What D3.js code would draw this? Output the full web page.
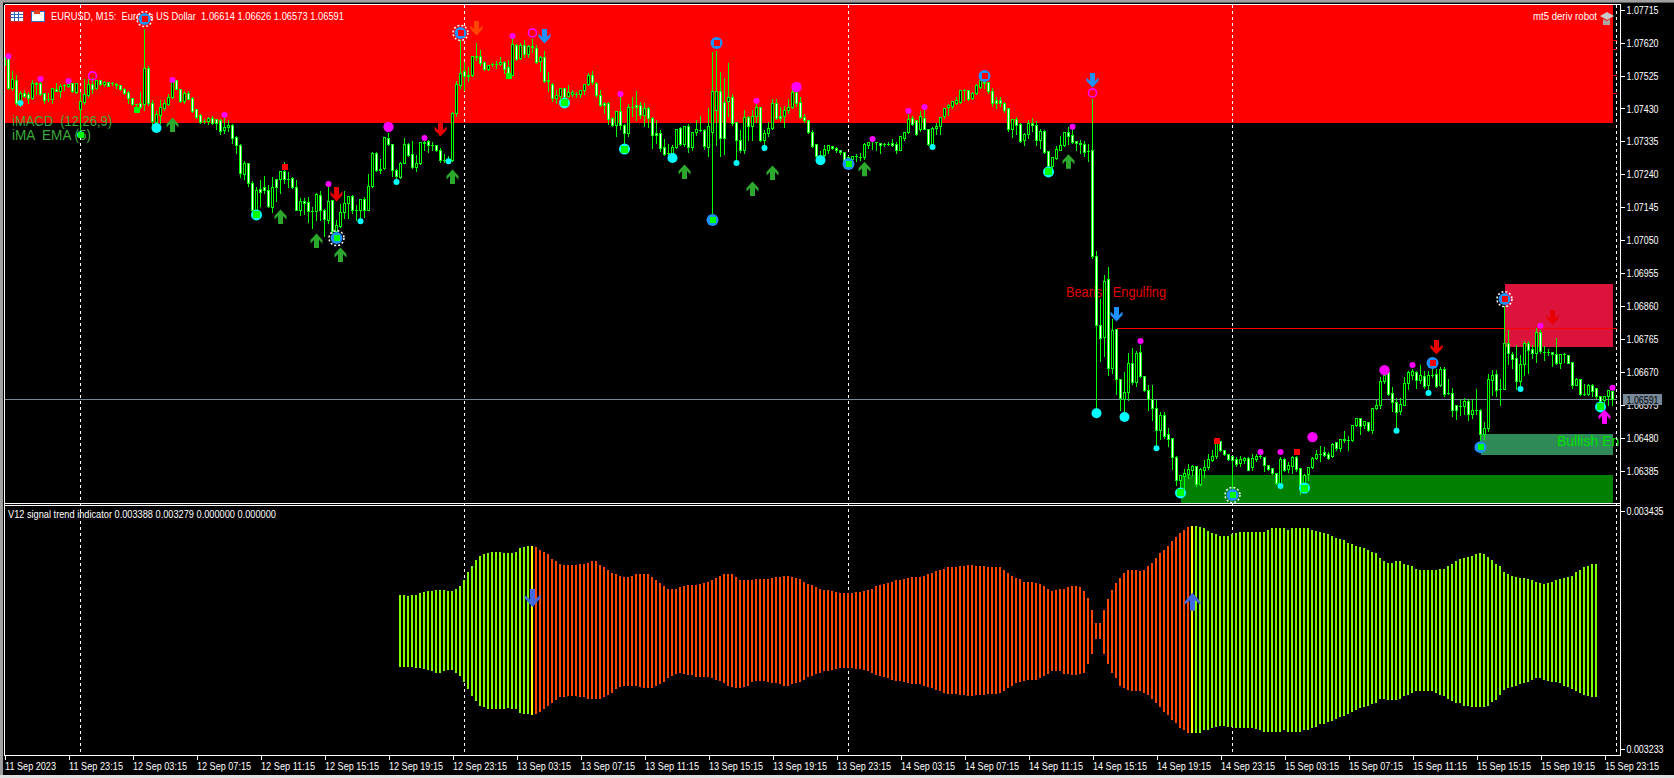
<!DOCTYPE html>
<meta charset="utf-8">
<script src="https://d3js.org/d3.v7.min.js"></script>
<style>
  html, body { margin: 0; padding: 0; background: #000; overflow: hidden; }
  svg { display: block; }
  text { font-family: "Liberation Sans", Arial, sans-serif; font-size: 11px; fill: #fff; white-space: pre; }
  .big { font-size: 14px; }
</style>
<div id="chart"></div>
<script>

// candles by day, rows are [open, high, low, close] in points above 1.06000
var sep11 = [
[1553,1585,1540,1578],[1575,1582,1485,1489],[1487,1540,1482,1513],[1511,1527,1440,1445],[1450,1482,1435,1474],
[1474,1484,1462,1466],[1471,1479,1443,1458],[1458,1513,1455,1501],[1502,1508,1470,1503],[1501,1508,1467,1469],
[1472,1476,1445,1453],[1455,1476,1450,1455],[1457,1490,1443,1488],[1486,1506,1478,1480],[1479,1503,1463,1493],
[1495,1503,1482,1495],[1493,1508,1491,1498],[1501,1505,1477,1479],[1477,1503,1474,1501]];
var sep12 = [
[1426,1479,1368,1450],[1447,1517,1441,1469],[1467,1517,1463,1498],[1498,1520,1474,1484],[1489,1513,1486,1511],
[1511,1513,1496,1498],[1500,1511,1493,1505],[1506,1509,1492,1493],[1501,1508,1495,1501],[1497,1505,1489,1500],
[1495,1498,1482,1484],[1486,1490,1469,1474],[1477,1481,1445,1458],[1460,1462,1439,1441],[1441,1445,1434,1441],
[1443,1479,1431,1434],[1441,1660,1424,1546],[1546,1553,1440,1443],[1443,1455,1380,1393],[1391,1423,1383,1412],
[1410,1457,1388,1434],[1431,1455,1423,1443],[1441,1474,1439,1463],[1463,1513,1460,1506],[1511,1513,1484,1486],
[1484,1489,1448,1450],[1450,1482,1445,1474],[1474,1482,1455,1457],[1460,1466,1418,1421],[1426,1428,1400,1403],
[1409,1415,1388,1391],[1392,1402,1386,1392],[1393,1407,1383,1400],[1400,1410,1383,1386],[1397,1399,1369,1386],
[1395,1402,1354,1364],[1366,1407,1359,1376],[1375,1397,1364,1382],[1382,1386,1330,1344],[1347,1351,1301,1323],
[1323,1330,1231,1241],[1240,1281,1226,1272],[1270,1270,1204,1214],[1214,1222,1132,1135],[1135,1206,1122,1193],
[1195,1224,1147,1187],[1201,1238,1185,1192],[1193,1212,1144,1147],[1144,1235,1130,1202],[1226,1228,1163,1202],
[1224,1250,1185,1249],[1249,1277,1214,1224],[1226,1248,1202,1226],[1228,1233,1199,1201],[1201,1224,1135,1137],
[1137,1174,1121,1162],[1161,1174,1123,1156],[1159,1177,1100,1132],[1132,1147,1084,1132],[1132,1187,1108,1183],
[1180,1192,1108,1136],[1136,1142,1062,1110],[1108,1204,1097,1162],[1164,1168,1070,1075],[1075,1110,1070,1091],
[1089,1156,1087,1130],[1129,1192,1113,1156],[1155,1180,1113,1177],[1177,1183,1126,1137],[1137,1154,1108,1137],
[1137,1168,1111,1168],[1168,1177,1116,1137],[1137,1241,1135,1204],[1204,1305,1202,1301],[1301,1305,1248,1250],
[1251,1286,1243,1254],[1256,1349,1254,1346],[1344,1360,1322,1325],[1326,1329,1233,1251],[1252,1257,1228,1233],
[1230,1276,1228,1272],[1272,1346,1270,1327],[1325,1331,1291,1294],[1296,1339,1257,1259],[1259,1296,1248,1272],
[1272,1334,1269,1333],[1331,1344,1310,1333],[1334,1341,1302,1323],[1323,1334,1308,1323],[1322,1325,1305,1308],
[1310,1317,1275,1279],[1281,1301,1275,1281],[1282,1293,1272,1280],[1281,1421,1278,1416],[1416,1512,1408,1498],
[1496,1628,1488,1530]];
var sep13 = [
[1536,1565,1483,1522],[1526,1551,1507,1524],[1525,1581,1522,1580],[1580,1621,1568,1579],[1581,1600,1555,1560],
[1563,1568,1541,1543],[1543,1558,1541,1555],[1557,1563,1550,1557],[1557,1568,1544,1557],[1556,1579,1553,1563],
[1563,1568,1531,1543],[1548,1570,1520,1528],[1526,1632,1524,1616],[1613,1618,1568,1571],[1574,1621,1571,1611],
[1613,1629,1577,1586],[1587,1616,1576,1610],[1608,1632,1592,1610],[1603,1616,1560,1562],[1565,1584,1536,1577],
[1577,1596,1504,1509],[1512,1538,1480,1509],[1500,1505,1449,1459],[1458,1485,1444,1467],[1466,1489,1459,1488],
[1488,1489,1450,1462],[1464,1499,1461,1475],[1470,1486,1464,1476],[1471,1478,1462,1471],[1469,1486,1462,1483],
[1481,1499,1471,1499],[1499,1534,1495,1524],[1524,1541,1499,1505],[1502,1507,1462,1467],[1467,1485,1435,1438],
[1445,1451,1416,1438],[1445,1449,1385,1399],[1401,1406,1377,1380],[1380,1423,1348,1420],[1420,1468,1368,1382],
[1382,1387,1324,1358],[1358,1444,1350,1433],[1433,1466,1406,1433],[1438,1483,1396,1432],[1438,1451,1401,1409],
[1409,1446,1377,1430],[1430,1435,1375,1401],[1401,1408,1315,1351],[1358,1399,1329,1351],[1358,1368,1305,1315],
[1318,1344,1295,1298],[1300,1329,1279,1300],[1300,1327,1295,1318],[1317,1372,1315,1370],[1372,1377,1324,1327],
[1327,1382,1320,1377],[1377,1387,1302,1317],[1317,1363,1310,1361],[1360,1399,1353,1370],[1367,1411,1363,1367],
[1366,1372,1312,1319],[1318,1433,1291,1377],[1361,1594,1118,1478],[1425,1596,1324,1478],[1478,1536,1292,1344],
[1446,1520,1298,1342],[1449,1562,1406,1462],[1462,1473,1382,1387],[1390,1392,1281,1339],[1339,1368,1302,1310],
[1310,1428,1300,1404],[1404,1411,1337,1379],[1377,1428,1339,1406],[1406,1445,1391,1433],[1433,1437,1334,1337],
[1337,1369,1324,1358],[1358,1392,1350,1372],[1373,1459,1370,1445],[1445,1459,1397,1401],[1408,1435,1392,1401],
[1406,1440,1375,1425],[1425,1460,1415,1432],[1432,1488,1430,1476],[1476,1495,1435,1445],[1448,1464,1401,1404],
[1404,1416,1390,1395],[1395,1399,1358,1361],[1361,1370,1318,1320],[1325,1326,1289,1291],[1294,1310,1281,1294],
[1294,1327,1291,1313],[1310,1327,1299,1322],[1321,1324,1313,1315],[1315,1320,1302,1310],[1310,1313,1296,1303],
[1303,1305,1279,1281]];
var sep14 = [
[1281,1293,1275,1290],[1284,1293,1276,1291],[1291,1300,1276,1291],[1289,1302,1279,1289],[1289,1332,1283,1325],
[1322,1336,1315,1332],[1334,1347,1313,1334],[1331,1334,1310,1331],[1329,1331,1299,1322],[1327,1332,1320,1327],
[1327,1334,1323,1327],[1329,1344,1320,1322],[1327,1334,1299,1310],[1310,1351,1308,1349],[1342,1365,1339,1361],
[1361,1416,1358,1397],[1400,1411,1382,1385],[1395,1399,1353,1356],[1368,1425,1365,1406],[1401,1435,1368,1370],
[1370,1373,1324,1327],[1327,1377,1320,1373],[1372,1389,1356,1379],[1377,1406,1356,1404],[1406,1433,1401,1430],
[1433,1445,1411,1439],[1435,1454,1430,1451],[1445,1464,1442,1454],[1447,1483,1443,1481],[1481,1488,1454,1481],
[1481,1486,1452,1456],[1459,1478,1456,1474],[1472,1502,1470,1495],[1491,1514,1489,1512],[1505,1512,1488,1503],
[1504,1509,1472,1478],[1478,1491,1437,1443],[1454,1464,1430,1445],[1454,1464,1437,1445],[1445,1450,1418,1424],
[1430,1433,1365,1368],[1368,1399,1347,1397],[1397,1406,1356,1382],[1385,1389,1331,1334],[1337,1360,1322,1356],
[1355,1399,1344,1387],[1387,1404,1363,1380],[1382,1395,1322,1339],[1339,1371,1315,1365],[1365,1368,1300,1302],
[1305,1308,1260,1264],[1264,1291,1255,1288],[1286,1323,1283,1313],[1310,1353,1308,1324],[1323,1365,1320,1362],
[1361,1377,1325,1350],[1353,1373,1329,1332],[1335,1339,1310,1329],[1329,1341,1300,1325],[1325,1339,1291,1302],
[1305,1329,1276,1305],[1310,1459,997,1002],[1002,1019,560,803],[803,882,700,767],[770,952,714,930],
[937,974,661,680],[680,825,666,789],[793,796,606,647],[647,651,560,593],[591,672,546,610],
[610,727,587,695],[695,741,635,639],[639,733,627,724],[725,750,654,658],[658,661,613,616],
[616,635,558,589],[589,634,531,565],[565,591,454,500],[500,555,476,543],[543,555,478,483],
[488,510,454,476],[478,481,389,423],[423,430,341,356],[356,373,334,370],[368,392,334,377],
[375,406,363,389],[387,404,372,396],[398,401,339,345],[345,395,343,389],[387,416,366,394],
[395,435,389,416],[414,445,411,427],[425,469,420,466],[469,473,440,443],[444,446,430,433],
[433,435,414,418]];
var sep15 = [
[425,427,334,414],[416,425,397,404],[405,430,397,416],[413,425,406,420],[420,425,385,387],
[393,435,385,420],[418,435,411,427],[427,440,420,427],[423,425,382,399],[399,401,385,389],
[392,394,374,377],[377,379,345,348],[348,425,343,416],[416,423,382,387],[389,411,380,401],
[398,430,377,423],[423,430,382,389],[392,395,315,341],[346,377,324,372],[375,397,358,395],
[395,425,392,421],[419,447,416,433],[433,459,411,433],[437,455,425,430],[433,440,416,421],
[425,466,423,462],[466,469,443,449],[449,478,440,475],[476,502,466,473],[473,486,443,473],
[473,517,469,515],[515,539,512,536],[536,539,488,512],[514,531,507,526],[525,528,498,500],
[500,567,493,565],[565,589,562,572],[572,658,565,642],[642,666,637,661],[668,671,603,606],
[608,629,555,581],[581,597,505,552],[555,597,546,576],[574,658,572,637],[637,675,618,669],
[661,680,647,670],[669,675,623,644],[644,690,637,661],[656,674,623,629],[631,675,618,661],
[661,680,653,661],[663,680,625,629],[632,687,629,678],[678,687,600,606],[608,651,606,608],
[608,625,541,560],[572,577,534,560],[571,594,543,571],[570,597,546,584],[584,592,531,546],
[546,594,536,560],[560,621,546,560],[560,565,473,490],[490,528,476,507],[507,664,499,647],
[645,678,603,661],[663,678,599,616],[618,650,574,618],[620,862,618,752],[752,793,690,722],
[721,730,680,707],[709,750,618,642],[642,719,632,692],[692,762,661,752],[752,762,666,733],
[735,750,709,722],[723,799,698,784],[784,793,724,728],[727,745,702,727],[726,738,716,726],
[725,728,685,719],[721,769,690,695],[695,724,680,719],[719,726,698,719],[717,719,693,695],
[698,701,622,632],[632,654,630,649],[648,651,603,606],[606,637,601,606],[606,637,601,632],
[630,637,598,613],[621,623,592,598],[598,601,565,586],[587,603,570,600],[598,620,574,616],
[614,626,573,591]];
var candles = [].concat(sep11, sep12, sep13, sep14, sep15);

// markers, rows are [bar index, points above 1.06000]
var magentaDots = [[1,1581],[9,1515],[16,1509],[42,1512],[55,1411],[81,1212],[105,1345],[127,1639],[154,1472],[188,1452],[217,1342],[226,1423],[230,1434],[267,1377],[284,759],[314,439],[319,439],[352,690],[384,803],[402,624]];
var cyanDots = [[4,1446],[89,1105],[98,1218],[111,1278],[183,1273],[190,1316],[232,1319],[288,450],[319,341],[348,500],[356,609],[379,621]];
var bigMagenta = [[96,1377],[198,1492],[327,482],[345,675]];
var bigCyan = [[38,1374],[167,1287],[204,1281],[273,551],[280,540]];
var cyanGreen = [[63,1123],[140,1446],[155,1313],[261,1247],[294,321],[325,335],[399,569]];
var magentaRings = [[22,1524],[132,1648],[272,1475]];
var greenSquares = [[19,1354],[33,1426],[126,1524]];
var redSquares = [[70,1261],[303,471],[323,439]];
var blueRed = [[178,1619],[245,1524],[357,696]];
var blueGreen = [[177,1108],[211,1270],[369,453]];
var gearRed = [[35,1688],[114,1648],[375,880]];
var gearGreen = [[83,1056],[307,315]];
var greenUp = [[42,1382],[69,1117],[78,1048],[84,1007],[112,1232],[170,1247],[187,1198],[192,1244],[215,1255],[266,1276]];
var redDown = [[83,1183],[109,1371],[358,742],[387,828]];
var blueDown = [[135,1639],[272,1512],[278,837]];
var orangeDown = [[118,1662]];
var magentaUp = [[400,540]];

// zones, rows are [first bar, last bar, high points, low points, colour]
var zones = [
  [0, 402, 1729, 1388, "#ff0000"],
  [375, 402, 924, 742, "#dc143c"],
  [369, 402, 491, 430.5, "#2e8b57"],
  [294, 402, 373, 292, "#008000"]
];
var resistanceLine = [278, 796];
var lastPrice = 1.06591;
var riskLevels = [1625, 1599, 1524, 1472];

var priceTicks = ["1.07715","1.07620","1.07525","1.07430","1.07335","1.07240","1.07145","1.07050","1.06955","1.06860","1.06765","1.06670","1.06575","1.06480","1.06385"];
var signalTicks = [0.003435, 0.003233];
var dayStarts = [19, 115, 211, 307];
var timeTicks = [0,16,32,48,64,80,96,112,128,144,160,176,192,208,224,240,256,272,288,304,320,336,352,368,384,400];
var timeLabels = ["11 Sep 2023","11 Sep 23:15","12 Sep 03:15","12 Sep 07:15","12 Sep 11:15","12 Sep 15:15","12 Sep 19:15","12 Sep 23:15","13 Sep 03:15","13 Sep 07:15","13 Sep 11:15","13 Sep 15:15","13 Sep 19:15","13 Sep 23:15","14 Sep 03:15","14 Sep 07:15","14 Sep 11:15","14 Sep 15:15","14 Sep 19:15","14 Sep 23:15","15 Sep 03:15","15 Sep 07:15","15 Sep 11:15","15 Sep 15:15","15 Sep 19:15","15 Sep 23:15"];

// V12 indicator, values in millionths, first entry is bar 99
var signalStart = 99;
var signalTop = [3364,3364,3363,3364,3364,3365,3366,3367,3367,3368,3368,3368,3367,3367,3369,3371,3376,3383,3388,3393,3397,3398,3399,3400,3400,3400,3399,3399,3399,3400,3403,3404,3405,3405,3404,3402,3400,3398,3394,3392,3390,3389,3389,3389,3389,3390,3390,3391,3392,3392,3389,3387,3385,3382,3381,3380,3379,3379,3380,3381,3381,3381,3381,3379,3376,3374,3371,3369,3369,3369,3370,3371,3372,3372,3372,3373,3374,3375,3376,3378,3380,3381,3381,3381,3379,3376,3376,3376,3376,3377,3377,3377,3377,3378,3379,
3379,3380,3380,3379,3378,3377,3375,3373,3372,3370,3369,3368,3368,3367,3366,3365,3365,3365,3365,3366,3366,3367,3368,3369,3371,3372,3373,3374,3375,3376,3376,3377,3378,3379,3379,3379,3380,3381,3382,3384,3385,3386,3387,3387,3387,3388,3388,3389,3389,3388,3388,3388,3387,3387,3387,
3387,3385,3382,3380,3378,3377,3375,3375,3375,3374,3373,3371,3369,3367,3368,3369,3369,3370,3371,3371,3370,3367,3361,3351,3340,3340,3351,3360,3368,3374,3378,3382,3385,3385,3385,3384,3385,3388,3391,3395,3399,3402,3405,3409,3413,3416,3419,3421,3422,3422,3421,3420,3418,3416,3415,3414,3414,3414,3415,3416,3417,3417,3417,3417,3417,3417,3417,3419,3420,3420,3420,3420,3419,3420,3420,3420,3420,3420,3419,3418,3417,3416,3415,3414,3412,3411,3410,3408,3407,3405,3404,3403,3402,3400,3399,3395,3392,3391,3391,3392,3392,3390,3389,3388,3386,3385,3385,3385,3385,3385,3386,3386,3388,3390,3392,3394,3395,3396,3397,3398,3399,3398,3396,3393,3390,3388,3383,3381,3380,3379,3378,3378,3377,3376,3375,3374,3373,3374,3375,3376,3377,3378,3379,3380,3383,3385,3387,3388,3390,3390];
var signalBottom = [3303,3303,3303,3303,3302,3302,3301,3300,3299,3298,3298,3299,3300,3300,3298,3295,3290,3284,3278,3274,3270,3269,3267,3267,3267,3267,3267,3268,3267,3267,3264,3263,3263,3262,3263,3265,3267,3270,3272,3275,3277,3277,3278,3278,3278,3277,3277,3276,3276,3276,3276,3277,3279,3281,3284,3286,3287,3287,3287,3287,3286,3285,3285,3285,3287,3288,3290,3293,3295,3297,3298,3297,3296,3296,3294,3294,3294,3294,3293,3292,3291,3289,3287,3286,3285,3285,3286,3287,3290,3291,3291,3291,3290,3289,3289,
3288,3287,3287,3288,3289,3290,3292,3294,3295,3297,3298,3299,3299,3300,3301,3302,3302,3302,3302,3301,3301,3300,3299,3298,3296,3295,3294,3293,3292,3291,3291,3290,3289,3288,3288,3288,3287,3286,3285,3283,3282,3281,3280,3280,3280,3279,3279,3278,3278,3279,3279,3279,3280,3280,3280,
3281,3282,3285,3287,3289,3290,3291,3292,3292,3292,3293,3295,3297,3299,3299,3299,3297,3297,3296,3296,3297,3298,3305,3314,3326,3326,3314,3305,3298,3293,3287,3285,3283,3282,3282,3282,3281,3279,3276,3272,3269,3265,3262,3258,3255,3251,3249,3247,3247,3247,3247,3249,3249,3251,3252,3253,3253,3252,3252,3251,3251,3251,3251,3251,3250,3249,3248,3248,3248,3248,3248,3249,3248,3248,3248,3248,3249,3249,3251,3252,3254,3254,3256,3257,3259,3260,3261,3263,3265,3266,3268,3269,3270,3271,3272,3276,3276,3275,3275,3275,3276,3278,3279,3281,3282,3282,3282,3282,3282,3281,3279,3278,3276,3274,3272,3272,3270,3270,3269,3269,3269,3269,3270,3273,3275,3279,3283,3285,3286,3287,3288,3289,3290,3292,3293,3293,3292,3291,3290,3290,3289,3287,3286,3284,3282,3281,3279,3278,3277,3277];
var signalFlips = [132, 297];
var signalArrows = [[132, 3361, "down"], [297, 3358, "up"]];

var width = 1674, height = 778;
var left = 4.5, plotRight = 1620.5;
var mainTop = 4.5, mainBottom = 503.5, subTop = 505.5, subBottom = 755.5;

var svg = d3.select("#chart").append("svg")
  .attr("width", width)
  .attr("height", height)
  .style("background", "#000");

var x = d3.scaleLinear().domain([0, 402]).range([4.5, 1612.5]);
var yMain = d3.scaleLinear().domain([1.07715, 1.06385]).range([9.7, 470.7]);
var ySub = d3.scaleLinear().domain([0.003435, 0.003233]).range([510.7, 749.3]);

function price(points) { return 1.06 + points / 100000; }
function yp(points) { return yMain(price(points)); }
function snap(v) { return Math.round(v - 0.5) + 0.5; }

// text squeezed to the width it has in the terminal's narrow ui font
function label(parent, tx, ty, len, str, cls, colour) {
  return parent.append("text")
    .attr("class", cls || null)
    .attr("x", tx).attr("y", ty)
    .attr("textLength", len)
    .attr("lengthAdjust", "spacingAndGlyphs")
    .style("fill", colour || "#fff")
    .text(str);
}

var defs = svg.append("defs");
defs.append("clipPath").attr("id", "mainClip").append("rect")
  .attr("x", 5).attr("y", 5).attr("width", 1614).attr("height", 498);

// window frame
svg.append("rect").attr("x", 0).attr("y", 0).attr("width", width).attr("height", 3).attr("fill", "#a0a0a0");
svg.append("rect").attr("x", 0).attr("y", 2).attr("width", width).attr("height", 1).attr("fill", "#606060");
svg.append("rect").attr("x", 0).attr("y", 0).attr("width", 3).attr("height", height).attr("fill", "#a0a0a0");
svg.append("rect").attr("x", 0).attr("y", height - 3).attr("width", width).attr("height", 3).attr("fill", "#e0e0e0");

var plot = svg.append("g").attr("shape-rendering", "crispEdges");

// zones
plot.selectAll(".zone").data(zones).enter().append("rect")
  .attr("class", "zone")
  .attr("x", function(d) { return Math.max(5, x(d[0])); })
  .attr("y", function(d) { return Math.round(yp(d[2])); })
  .attr("width", function(d) { return x(d[1]) - Math.max(5, x(d[0])); })
  .attr("height", function(d) { return Math.round(yp(d[3])) - Math.round(yp(d[2])); })
  .attr("fill", function(d) { return d[4]; });

// captions sit under the candles and markers
var captions = svg.append("g");
label(captions, 51, 20, 293, "EURUSD, M15:  Euro vs US Dollar  1.06614 1.06626 1.06573 1.06591");
label(captions, 1533, 20, 64, "mt5 deriv robot");
label(captions, 8, 518, 268, "V12 signal trend indicator 0.003388 0.003279 0.000000 0.000000");
label(captions, 12, 126, 100, "iMACD  (12,26,9)", "big", "#3cab3c");
label(captions, 12, 140, 79, "iMA  EMA (5)", "big", "#3cab3c");
label(captions, 1066, 297, 100, "Bearish Engulfing", "big", "#e00000");
captions.append("text").attr("class", "big").attr("x", 1557).attr("y", 446)
  .style("fill", "#00e000").attr("clip-path", "url(#mainClip)").text("Bullish Engulfing");

var over = svg.append("g").attr("shape-rendering", "crispEdges");

// period separators and the right hand shift line
var separatorX = dayStarts.map(function(d) { return x(d); }).concat([1616.5]);
over.selectAll(".sep").data(separatorX).enter().append("line")
  .attr("x1", function(d) { return snap(d); })
  .attr("x2", function(d) { return snap(d); })
  .attr("y1", 5).attr("y2", 755)
  .attr("stroke", "#fff")
  .attr("stroke-dasharray", "3,3");

// short red level stubs right of the zone
over.selectAll(".stub").data(riskLevels).enter().append("line")
  .attr("x1", 1612.5).attr("x2", 1617)
  .attr("y1", function(d) { return snap(yp(d)); })
  .attr("y2", function(d) { return snap(yp(d)); })
  .attr("stroke", "#ff0000");

over.append("line")
  .attr("x1", x(resistanceLine[0])).attr("x2", 1617)
  .attr("y1", snap(yp(resistanceLine[1]))).attr("y2", snap(yp(resistanceLine[1])))
  .attr("stroke", "#ff0000");

over.append("line")
  .attr("x1", 5).attr("x2", 1617)
  .attr("y1", snap(yMain(lastPrice))).attr("y2", snap(yMain(lastPrice)))
  .attr("stroke", "#778899");

// candles
var bars = over.append("g").attr("clip-path", "url(#mainClip)")
  .selectAll("g").data(candles).enter().append("g");

bars.append("line")
  .attr("x1", function(d, i) { return x(i); })
  .attr("x2", function(d, i) { return x(i); })
  .attr("y1", function(d) { return snap(yp(d[1])); })
  .attr("y2", function(d) { return snap(yp(d[2])); })
  .attr("stroke", "#00ff00");

bars.filter(function(d) { return d[0] !== d[3]; }).append("rect")
  .attr("x", function(d) { return x(candles.indexOf(d)) - 1; })
  .attr("y", function(d) { return snap(yp(Math.max(d[0], d[3]))); })
  .attr("width", 2)
  .attr("height", function(d) { return Math.max(1, snap(yp(Math.min(d[0], d[3]))) - snap(yp(Math.max(d[0], d[3])))); })
  .attr("stroke", "#00ff00")
  .attr("fill", function(d) { return d[3] < d[0] ? "#fff" : "#000"; });

bars.filter(function(d) { return d[0] === d[3]; }).append("line")
  .attr("x1", function(d) { return x(candles.indexOf(d)) - 1.5; })
  .attr("x2", function(d) { return x(candles.indexOf(d)) + 1.5; })
  .attr("y1", function(d) { return snap(yp(d[0])); })
  .attr("y2", function(d) { return snap(yp(d[0])); })
  .attr("stroke", "#00ff00");

// markers
var marks = svg.append("g").attr("clip-path", "url(#mainClip)");

function dots(data, r, fill) {
  marks.selectAll(null).data(data).enter().append("circle")
    .attr("cx", function(d) { return x(d[0]); })
    .attr("cy", function(d) { return yp(d[1]); })
    .attr("r", r)
    .attr("fill", fill);
}

function squares(data, size, fill) {
  marks.selectAll(null).data(data).enter().append("rect")
    .attr("x", function(d) { return x(d[0]) - size / 2; })
    .attr("y", function(d) { return yp(d[1]) - size / 2; })
    .attr("width", size).attr("height", size)
    .attr("fill", fill)
    .attr("shape-rendering", "crispEdges");
}

function gear(data) {
  marks.selectAll(null).data(data).enter().append("circle")
    .attr("cx", function(d) { return x(d[0]); })
    .attr("cy", function(d) { return yp(d[1]); })
    .attr("r", 7.5)
    .attr("fill", "none")
    .attr("stroke", "#fff")
    .attr("stroke-width", 1.5)
    .attr("stroke-dasharray", "2,2");
}

function arrows(data, dir, fill) {
  var path = "M0,-7.5L6,-1L6,2.5L2.5,-1L2.5,7L-2.5,7L-2.5,-1L-6,2.5L-6,-1Z";
  marks.selectAll(null).data(data).enter().append("path")
    .attr("d", path)
    .attr("transform", function(d) {
      return "translate(" + x(d[0]) + "," + yp(d[1]) + ") scale(1," + (dir === "up" ? 1 : -1) + ")";
    })
    .attr("fill", fill);
}

dots(magentaDots, 3, "#ff00ff");
dots(cyanDots, 3, "#00ffff");
dots(bigMagenta, 5.2, "#ff00ff");
dots(bigCyan, 5, "#00ffff");
dots(cyanGreen, 5.5, "#00ffff");
squares(cyanGreen, 7, "#00ff00");
dots(greenSquares.slice(0, 1), 3.5, "#00ffff");
squares(greenSquares, 6, "#00ff00");
squares(redSquares, 6, "#ff0000");

marks.selectAll(null).data(magentaRings).enter().append("circle")
  .attr("cx", function(d) { return x(d[0]); })
  .attr("cy", function(d) { return yp(d[1]); })
  .attr("r", 4)
  .attr("fill", "none")
  .attr("stroke", "#ff00ff")
  .attr("stroke-width", 1.6);

gear(gearRed);
gear(gearGreen);
dots(blueRed.concat(blueGreen, gearRed, gearGreen), 6, "#1e90ff");
squares(blueRed.concat(gearRed), 6, "#ff0000");
squares(blueGreen.concat(gearGreen), 6, "#00ff00");

arrows(greenUp, "up", "#2ca82c");
arrows(redDown, "down", "#e60000");
arrows(blueDown, "down", "#1e90ff");
arrows(orangeDown, "down", "#ff4500");
arrows(magentaUp, "up", "#ff00ff");

// indicator histogram
var signal = svg.append("g").attr("shape-rendering", "crispEdges");
signal.selectAll("rect").data(signalTop).enter().append("rect")
  .attr("x", function(d, i) { return Math.floor(x(signalStart + i)) - 1; })
  .attr("y", function(d) { return Math.round(ySub(d / 1e6)); })
  .attr("width", 2)
  .attr("height", function(d, i) { return Math.round(ySub(signalBottom[i] / 1e6)) - Math.round(ySub(d / 1e6)); })
  .attr("fill", function(d, i) {
    var bar = signalStart + i;
    if (signalFlips.indexOf(bar) >= 0) return "#ffff00";
    return bar > signalFlips[0] && bar < signalFlips[1] ? "#ff4500" : "#7fff00";
  });

signalArrows.forEach(function(a) {
  svg.append("path")
    .attr("d", "M0,-9L8,0L8,3L2.5,-1.5L2.5,9L-2.5,9L-2.5,-1.5L-8,3L-8,0Z")
    .attr("transform", "translate(" + x(a[0]) + "," + ySub(a[1] / 1e6) + ") scale(1," + (a[2] === "up" ? 1 : -1) + ")")
    .attr("fill", "#4169e1");
});

// panel borders
var frame = svg.append("g").attr("shape-rendering", "crispEdges").attr("stroke", "#fff");
[mainTop, mainBottom, subTop, subBottom].forEach(function(y) {
  frame.append("line").attr("x1", left).attr("x2", plotRight).attr("y1", y).attr("y2", y);
});
[left, plotRight].forEach(function(px) {
  frame.append("line").attr("x1", px).attr("x2", px).attr("y1", mainTop).attr("y2", subBottom);
});

// axes
var priceAxis = d3.axisRight(yMain)
  .tickValues(priceTicks.map(Number))
  .tickFormat(d3.format(".5f"))
  .tickSize(4).tickPadding(2);
var priceG = svg.append("g").attr("transform", "translate(" + plotRight + ",0)").call(priceAxis);

var signalAxis = d3.axisRight(ySub)
  .tickValues(signalTicks)
  .tickFormat(d3.format(".6f"))
  .tickSize(4).tickPadding(2);
var signalG = svg.append("g").attr("transform", "translate(" + plotRight + ",0)").call(signalAxis);

var timeAxis = d3.axisBottom(x)
  .tickValues(timeTicks)
  .tickFormat(function(d, i) { return timeLabels[i]; })
  .tickSize(4).tickPadding(1);
var timeG = svg.append("g").attr("transform", "translate(0," + subBottom + ")").call(timeAxis);

[priceG, signalG, timeG].forEach(function(g) {
  g.attr("font-family", null).attr("font-size", null);
  g.select(".domain").remove();
  g.selectAll("line").attr("stroke", "#fff").attr("shape-rendering", "crispEdges");
  g.selectAll("text").attr("fill", "#fff").attr("lengthAdjust", "spacingAndGlyphs");
});
priceG.selectAll("text").attr("textLength", 32);
signalG.selectAll("text").attr("textLength", 37);
timeG.selectAll("text")
  .style("text-anchor", "start")
  .attr("dy", "0.85em")
  .attr("textLength", function(d, i) { return i === 0 ? 51 : 54; });

// last price flag
svg.append("rect").attr("x", 1623).attr("y", 394).attr("width", 39).attr("height", 11).attr("fill", "#778899");
label(svg, 1626.5, 403.5, 32, "1.06591", null, "#000");

// toolbar icons
var icons = svg.append("g").attr("shape-rendering", "crispEdges");
icons.append("rect").attr("x", 10).attr("y", 11).attr("width", 13).attr("height", 10).attr("fill", "#fff").attr("stroke", "#c03030");
[14, 18].forEach(function(v) {
  icons.append("line").attr("x1", v).attr("x2", v).attr("y1", 11).attr("y2", 21).attr("stroke", "#3060c0");
});
[14.5, 17.5].forEach(function(v) {
  icons.append("line").attr("x1", 10).attr("x2", 23).attr("y1", v).attr("y2", v).attr("stroke", "#3060c0");
});
icons.append("rect").attr("x", 31).attr("y", 11).attr("width", 13).attr("height", 10).attr("fill", "#fff").attr("stroke", "#3070c0");
icons.append("rect").attr("x", 34).attr("y", 10).attr("width", 6).attr("height", 4).attr("fill", "#e04020");

// grad cap by the robot name
var cap = svg.append("g");
cap.append("path").attr("d", "M1600,16L1607,12L1614,16L1607,20Z").attr("fill", "#c8c8c8");
cap.append("path").attr("d", "M1603,19L1603,25L1610,25L1610,19L1607,21Z").attr("fill", "#a8a8a8");

</script>
